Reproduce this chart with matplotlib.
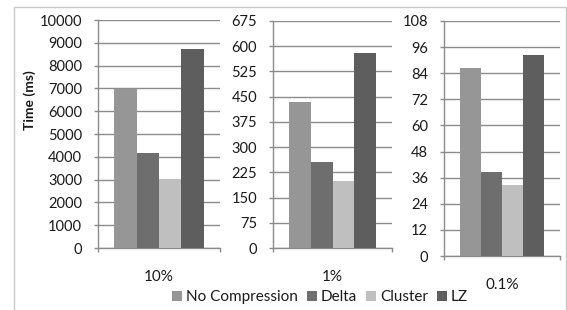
import matplotlib
matplotlib.use("Agg")
import matplotlib.pyplot as plt
from matplotlib.patches import Rectangle
import numpy as np

plt.rcParams['font.family'] = ['Lato', 'DejaVu Sans']

# data
series = ['No Compression', 'Delta', 'Cluster', 'LZ']
colors = ['#969696', '#6e6e6e', '#bfbfbf', '#5e5e5e']
panels = ['10%', '1%', '0.1%']
values = {
    '10%': [6960, 4160, 3030, 8730],
    '1%': [434, 256, 199, 581],
    '0.1%': [86.4, 38.5, 32.5, 92.3],
}
y_max = [10000, 675, 108]
y_step = [1000, 75, 12]

W, H = 567, 310
fig = plt.figure(figsize=(W / 100, H / 100), dpi=100)

# outer frame like the Excel chart area
fig.patches.append(Rectangle((14 / W, -0.1), (566 - 14) / W, 1.1 - 7 / H,
                             transform=fig.transFigure, fill=False,
                             edgecolor='#c8c8c8', lw=1.0))

# axes boxes in pixels: left, right, bottom(zero line), top
boxes = [(98, 220, 248, 20), (273, 392, 248, 21), (444, 560, 256, 21)]
grid_c = '#8c8c8c'
width = 0.183
txt_c = '#1a1a1a'

for i, name in enumerate(panels):
    l, r, b, t = boxes[i]
    ax = fig.add_axes([l / W, (H - b) / H, (r - l) / W, (b - t) / H])
    x = (np.arange(4) - 1.5) * width
    for j in range(4):
        ax.bar(x[j], values[name][j], width=width, color=colors[j],
               label=series[j], zorder=3)
    ax.set_xlim(-0.5, 0.5)
    ax.set_ylim(0, y_max[i])
    ax.set_yticks(np.arange(0, y_max[i] + y_step[i] / 2, y_step[i]))
    ax.yaxis.grid(True, color=grid_c, lw=1.0, zorder=0)
    ax.set_xticks([-0.5, 0.5])
    ax.set_xticklabels([])
    ax.set_xticks([0], minor=True)
    ax.set_xticklabels([name], minor=True, fontsize=11, color=txt_c)
    ax.tick_params(axis='x', which='minor', length=0, pad=16)
    ax.tick_params(axis='x', which='major', length=3, color=grid_c, width=1.0)
    ax.tick_params(axis='y', length=3, color=grid_c, width=1.0, pad=8.5,
                   labelsize=10.5, labelcolor=txt_c)
    for s in ['top', 'right']:
        ax.spines[s].set_visible(False)
    for s in ['left', 'bottom']:
        ax.spines[s].set_color(grid_c)
        ax.spines[s].set_linewidth(1.0)
    ax.set_facecolor('none')
    if i == 0:
        handles, labels = ax.get_legend_handles_labels()

fig.text(30 / W, 1 - 100 / H, 'Time (ms)', rotation=90, ha='center',
         va='center', fontsize=10, fontweight='bold', color=txt_c)

leg = fig.legend(handles, labels, loc='center',
                 bbox_to_anchor=(320 / W, 1 - 297 / H),
                 ncol=4, frameon=False, fontsize=11, handlelength=0.65,
                 handleheight=0.65, handletextpad=0.25, columnspacing=0.6,
                 borderpad=0)
for tx in leg.get_texts():
    tx.set_color(txt_c)

fig.savefig('out.png', dpi=100)
